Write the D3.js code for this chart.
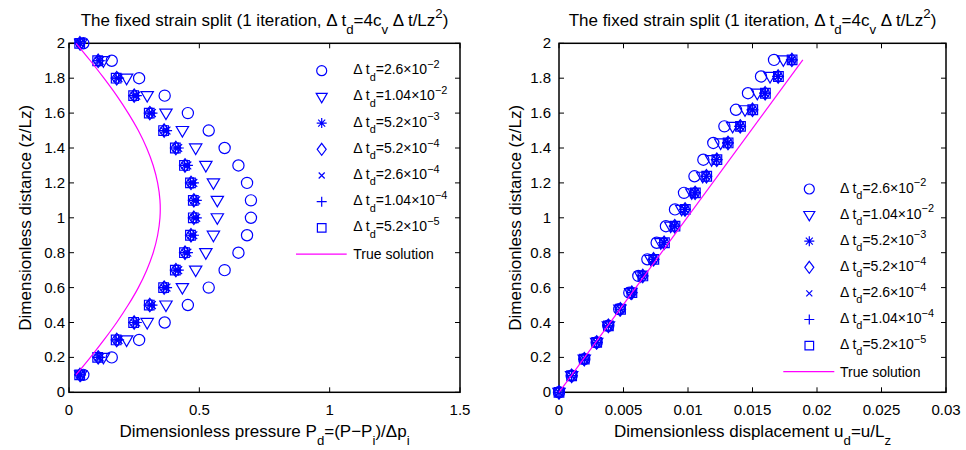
<!DOCTYPE html>
<html>
<head>
<meta charset="utf-8">
<script src="https://cdn.jsdelivr.net/npm/d3@7"></script>
<style>
body { margin: 0; background: #fff; }
svg { display: block; font-family: 'Liberation Sans', Arial, sans-serif; }
</style>
</head>
<body>
<svg width="966" height="450"></svg>
<script>
// Data: left panel (pressure vs depth)
const left_z = [0.1, 0.2, 0.3, 0.4, 0.5, 0.6, 0.7, 0.8, 0.9, 1.0, 1.1, 1.2, 1.3, 1.4, 1.5, 1.6, 1.7, 1.8, 1.9, 2.0];
const left_p_26e2 = [0.055, 0.164, 0.269, 0.367, 0.456, 0.536, 0.597, 0.650, 0.683, 0.698, 0.698, 0.683, 0.650, 0.597, 0.536, 0.456, 0.367, 0.269, 0.164, 0.055];
const left_p_104e2 = [0.045, 0.132, 0.221, 0.300, 0.372, 0.435, 0.486, 0.525, 0.554, 0.569, 0.569, 0.554, 0.525, 0.486, 0.435, 0.372, 0.300, 0.221, 0.132, 0.045];
const left_p_52e3 = [0.044, 0.118, 0.190, 0.258, 0.318, 0.374, 0.419, 0.454, 0.477, 0.488, 0.488, 0.477, 0.454, 0.419, 0.374, 0.318, 0.258, 0.190, 0.118, 0.044];
const left_p_52e4 = [0.042, 0.112, 0.183, 0.250, 0.310, 0.365, 0.410, 0.445, 0.468, 0.479, 0.479, 0.468, 0.445, 0.410, 0.365, 0.310, 0.250, 0.183, 0.112, 0.042];
const left_p_26e4 = [0.041, 0.111, 0.182, 0.249, 0.309, 0.364, 0.409, 0.444, 0.467, 0.478, 0.478, 0.467, 0.444, 0.409, 0.364, 0.309, 0.249, 0.182, 0.111, 0.041];
const left_p_104e4 = [0.041, 0.111, 0.181, 0.248, 0.308, 0.363, 0.408, 0.443, 0.466, 0.477, 0.477, 0.466, 0.443, 0.408, 0.363, 0.308, 0.248, 0.181, 0.111, 0.041];
const left_p_52e5 = [0.041, 0.110, 0.181, 0.248, 0.308, 0.363, 0.408, 0.443, 0.466, 0.477, 0.477, 0.466, 0.443, 0.408, 0.363, 0.308, 0.248, 0.181, 0.110, 0.041];
const left_p_true = [0.027, 0.082, 0.134, 0.183, 0.227, 0.266, 0.298, 0.323, 0.340, 0.349, 0.349, 0.340, 0.323, 0.298, 0.266, 0.227, 0.183, 0.134, 0.082, 0.027];

// Data: right panel (displacement vs depth)
const right_z = [0, 0.095, 0.19, 0.286, 0.381, 0.476, 0.571, 0.667, 0.762, 0.857, 0.952, 1.048, 1.143, 1.238, 1.333, 1.429, 1.524, 1.619, 1.714, 1.81, 1.905];
const right_u_26e2 = [0, 0.00098, 0.00196, 0.00292, 0.00382, 0.00467, 0.00545, 0.00615, 0.00685, 0.00757, 0.00829, 0.00899, 0.00969, 0.0105, 0.01119, 0.01196, 0.01282, 0.01372, 0.01465, 0.01566, 0.01667];
const right_u_104e2 = [0, 0.00098, 0.00196, 0.00292, 0.00383, 0.00472, 0.00556, 0.00634, 0.00712, 0.00789, 0.00866, 0.00951, 0.01029, 0.01114, 0.01183, 0.01253, 0.01346, 0.01442, 0.01537, 0.01636, 0.01739];
const right_u_52e3 = [0, 0.00098, 0.00196, 0.00292, 0.00383, 0.00475, 0.00562, 0.00646, 0.0073, 0.00812, 0.00894, 0.00974, 0.01052, 0.0114, 0.0122, 0.01307, 0.01402, 0.01497, 0.01595, 0.01696, 0.01802];
const right_u_52e4 = [0, 0.00098, 0.00196, 0.00292, 0.00383, 0.00476, 0.00564, 0.00649, 0.00733, 0.00815, 0.00897, 0.00977, 0.01055, 0.01143, 0.01223, 0.0131, 0.01405, 0.015, 0.01598, 0.01699, 0.01805];
const right_u_26e4 = [0, 0.00098, 0.00196, 0.00292, 0.00383, 0.00477, 0.00565, 0.0065, 0.00735, 0.00817, 0.00899, 0.00979, 0.01057, 0.01145, 0.01224, 0.01311, 0.01407, 0.01502, 0.016, 0.01701, 0.01807];
const right_u_104e4 = [0, 0.00098, 0.00196, 0.00292, 0.00383, 0.00477, 0.00565, 0.0065, 0.00735, 0.00817, 0.00899, 0.00979, 0.01057, 0.01145, 0.01224, 0.01311, 0.01407, 0.01502, 0.016, 0.01701, 0.01807];
const right_u_52e5 = [0, 0.00098, 0.00196, 0.00292, 0.00383, 0.00477, 0.00565, 0.0065, 0.00735, 0.00817, 0.00899, 0.00979, 0.01057, 0.01145, 0.01224, 0.01311, 0.01407, 0.01502, 0.016, 0.01701, 0.01807];
const right_true_z = [0, 1.905];
const right_true_u = [0, 0.0189];

// Ticks
const y_ticks = [0, 0.2, 0.4, 0.6, 0.8, 1, 1.2, 1.4, 1.6, 1.8, 2];
const y_tick_labels = ['0', '0.2', '0.4', '0.6', '0.8', '1', '1.2', '1.4', '1.6', '1.8', '2'];
const left_x_ticks = [0, 0.5, 1, 1.5];
const left_x_tick_labels = ['0', '0.5', '1', '1.5'];
const right_x_ticks = [0, 0.005, 0.01, 0.015, 0.02, 0.025, 0.03];
const right_x_tick_labels = ['0', '0.005', '0.01', '0.015', '0.02', '0.025', '0.03'];

// Legend
const series_markers = ['circle', 'triangle', 'star', 'diamond', 'x', 'plus', 'square'];
const series_mant = ['2.6', '1.04', '5.2', '5.2', '2.6', '1.04', '5.2'];
const series_exp = ['\u22122', '\u22122', '\u22123', '\u22124', '\u22124', '\u22124', '\u22125'];
const true_label = 'True solution';

// Constants
const svg = d3.select('svg');
const blue = '#0000ff';
const magenta = '#ff00ff';
const tick_font = 15;
const label_font = 17;
const legend_font = 14;

// marker outlines, k = size factor
const marker_path = (type, k) => {
    const p = v => (v * k).toFixed(2);
    switch (type) {
        case 'circle': return `M${p(-5)},0A${p(5)},${p(5)} 0 1 0 ${p(5)},0A${p(5)},${p(5)} 0 1 0 ${p(-5)},0Z`;
        case 'triangle': return `M${p(-5.5)},${p(-3.6)}L${p(5.5)},${p(-3.6)}L0,${p(5.8)}Z`;
        case 'star': return `M0,${p(-5)}V${p(5)}M${p(-5)},0H${p(5)}M${p(-3.5)},${p(-3.5)}L${p(3.5)},${p(3.5)}M${p(-3.5)},${p(3.5)}L${p(3.5)},${p(-3.5)}`;
        case 'diamond': return `M0,${p(-6)}L${p(4.5)},0L0,${p(6)}L${p(-4.5)},0Z`;
        case 'x': return `M${p(-3)},${p(-3)}L${p(3)},${p(3)}M${p(-3)},${p(3)}L${p(3)},${p(-3)}`;
        case 'plus': return `M0,${p(-5)}V${p(5)}M${p(-5)},0H${p(5)}`;
        case 'square': return `M${p(-4.3)},${p(-4.3)}H${p(4.3)}V${p(4.3)}H${p(-4.3)}Z`;
    }
};

// text with sub/superscripts, parts = [[text, 'n'|'sub'|'sup'], ...]
const rich = (sel, parts, size) => {
    let shift = 0;
    parts.forEach(([t, k]) => {
        const target = k === 'sub' ? size * 0.45 : k === 'sup' ? -size * 0.45 : 0;
        sel.append('tspan')
            .attr('dy', target - shift)
            .attr('font-size', k === 'n' ? size : size * 0.78)
            .text(t);
        shift = target;
    });
};

const title_parts = [
    ['The fixed strain split (1 iteration, \u0394 t', 'n'], ['d', 'sub'], ['=4c', 'n'], ['v', 'sub'],
    [' \u0394 t/Lz', 'n'], ['2', 'sup'], [')', 'n']
];

const draw_panel = cfg => {
    const x = d3.scaleLinear().domain(cfg.x_domain).range([cfg.left, cfg.right]);
    const y = d3.scaleLinear().domain([0, 2]).range([392.3, 43.3]);
    const g = svg.append('g');

    // ticks (inward, all four sides)
    const tl = 5;
    cfg.x_ticks.forEach(t => {
        g.append('line').attr('x1', x(t)).attr('x2', x(t)).attr('y1', y(0)).attr('y2', y(0) - tl)
            .attr('stroke', '#000').attr('stroke-width', 1);
        g.append('line').attr('x1', x(t)).attr('x2', x(t)).attr('y1', y(2)).attr('y2', y(2) + tl)
            .attr('stroke', '#000').attr('stroke-width', 1);
    });
    y_ticks.forEach(t => {
        g.append('line').attr('x1', x.range()[0]).attr('x2', x.range()[0] + tl).attr('y1', y(t)).attr('y2', y(t))
            .attr('stroke', '#000').attr('stroke-width', 1);
        g.append('line').attr('x1', x.range()[1]).attr('x2', x.range()[1] - tl).attr('y1', y(t)).attr('y2', y(t))
            .attr('stroke', '#000').attr('stroke-width', 1);
    });

    // box
    g.append('rect')
        .attr('x', cfg.left).attr('y', y(2))
        .attr('width', cfg.right - cfg.left).attr('height', y(0) - y(2))
        .attr('fill', 'none').attr('stroke', '#000').attr('stroke-width', 1.5);

    // tick labels
    g.selectAll('.xtl').data(cfg.x_ticks).enter().append('text')
        .attr('x', d => x(d)).attr('y', 415)
        .attr('text-anchor', 'middle').attr('font-size', tick_font)
        .text((d, i) => cfg.x_tick_labels[i]);
    g.selectAll('.ytl').data(y_ticks).enter().append('text')
        .attr('x', cfg.left - cfg.ytl_gap).attr('y', d => y(d) + 5)
        .attr('text-anchor', 'end').attr('font-size', tick_font)
        .text((d, i) => y_tick_labels[i]);

    // title
    const title = g.append('text')
        .attr('x', (cfg.left + cfg.right) / 2).attr('y', 26)
        .attr('text-anchor', 'middle');
    rich(title, title_parts, label_font);

    // x label
    const xl = g.append('text')
        .attr('x', (cfg.left + cfg.right) / 2).attr('y', 437)
        .attr('text-anchor', 'middle');
    rich(xl, cfg.x_label, label_font);

    // y label
    g.append('text')
        .attr('transform', `translate(${cfg.ylabel_x}, ${y(1)}) rotate(-90)`)
        .attr('text-anchor', 'middle').attr('font-size', label_font)
        .text('Dimensionless distance (z/Lz)');

    // markers
    cfg.series.forEach((vals, si) => {
        g.selectAll(`.m${si}`).data(vals).enter().append('path')
            .attr('transform', (d, i) => `translate(${x(d)}, ${y(cfg.z[i])})`)
            .attr('d', marker_path(series_markers[si], 1.12))
            .attr('fill', 'none').attr('stroke', blue).attr('stroke-width', 1.2);
    });

    // true solution
    const line = d3.line()
        .x(d => x(d[0])).y(d => y(d[1]))
        .curve(d3.curveCatmullRom);
    g.append('path')
        .attr('d', line(cfg.true_x.map((v, i) => [v, cfg.true_z[i]])))
        .attr('fill', 'none').attr('stroke', magenta).attr('stroke-width', 1.2);

    // legend
    const lg = g.append('g');
    series_markers.forEach((m, i) => {
        const ry = cfg.legend_y + i * cfg.legend_step;
        lg.append('path')
            .attr('transform', `translate(${cfg.legend_mx}, ${ry})`)
            .attr('d', marker_path(m, 1))
            .attr('fill', 'none').attr('stroke', blue).attr('stroke-width', 1.2);
        const t = lg.append('text').attr('x', cfg.legend_tx).attr('y', ry + 3.5);
        rich(t, [['\u0394 t', 'n'], ['d', 'sub'], [`=${series_mant[i]}\u00d710`, 'n'], [series_exp[i], 'sup']], legend_font);
    });
    const ly = cfg.legend_y + 7 * cfg.legend_step;
    lg.append('line')
        .attr('x1', cfg.legend_lx0).attr('x2', cfg.legend_lx1).attr('y1', ly).attr('y2', ly)
        .attr('stroke', magenta).attr('stroke-width', 1.2);
    lg.append('text').attr('x', cfg.legend_tx).attr('y', ly + 5)
        .attr('font-size', legend_font).text(true_label);
};

draw_panel({
    left: 69, right: 460, x_domain: [0, 1.5],
    x_ticks: left_x_ticks, x_tick_labels: left_x_tick_labels,
    ytl_gap: 4, ylabel_x: 31,
    x_label: [['Dimensionless pressure P', 'n'], ['d', 'sub'], ['=(P\u2212P', 'n'], ['i', 'sub'], [')/\u0394p', 'n'], ['i', 'sub']],
    z: left_z,
    series: [left_p_26e2, left_p_104e2, left_p_52e3, left_p_52e4, left_p_26e4, left_p_104e4, left_p_52e5],
    true_x: left_p_true, true_z: left_z,
    legend_y: 70.7, legend_step: 26.2, legend_mx: 321.7, legend_tx: 353.3,
    legend_lx0: 296, legend_lx1: 346.7
});

draw_panel({
    left: 559, right: 946, x_domain: [0, 0.03],
    x_ticks: right_x_ticks, x_tick_labels: right_x_tick_labels,
    ytl_gap: 8, ylabel_x: 521,
    x_label: [['Dimensionless displacement u', 'n'], ['d', 'sub'], ['=u/L', 'n'], ['z', 'sub']],
    z: right_z,
    series: [right_u_26e2, right_u_104e2, right_u_52e3, right_u_52e4, right_u_26e4, right_u_104e4, right_u_52e5],
    true_x: right_true_u, true_z: right_true_z,
    legend_y: 189, legend_step: 26.1, legend_mx: 809.3, legend_tx: 840,
    legend_lx0: 783.3, legend_lx1: 834.3
});
</script>
</body>
</html>
